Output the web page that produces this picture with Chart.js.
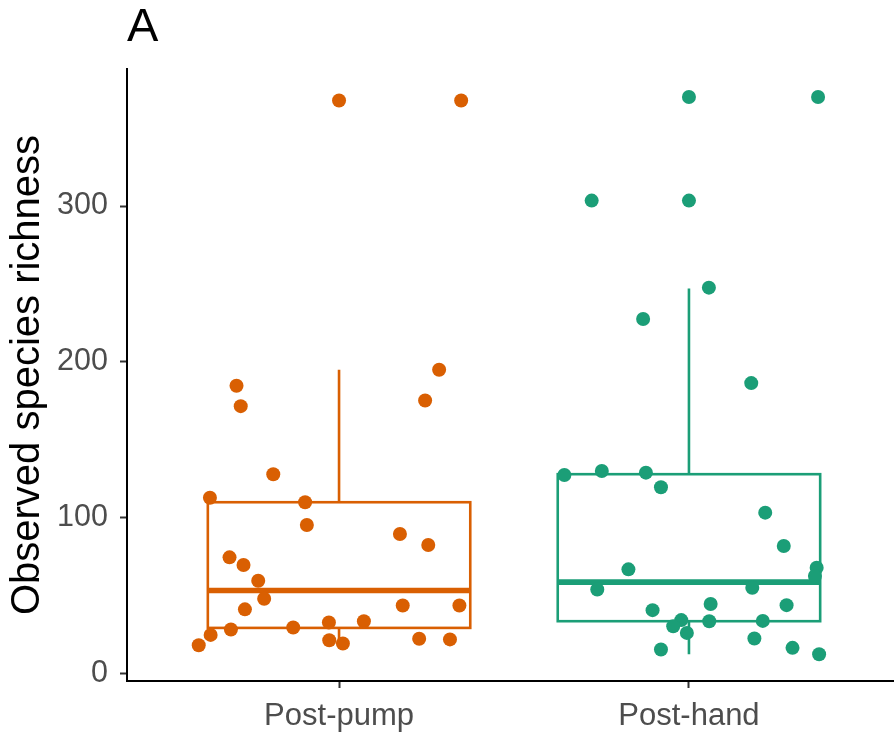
<!DOCTYPE html>
<html>
<head>
<meta charset="utf-8">
<script src="https://cdn.jsdelivr.net/npm/chart.js@4.4.0/dist/chart.umd.min.js"></script>
<style>
  body { margin: 0; background: #fff; }
</style>
</head>
<body>
<canvas id="grafico" width="894" height="736"></canvas>
<script>
// categorias del eje x y sus colores
const categorias = ['Post-pump', 'Post-hand'];
const colores = ['#D95F02', '#1B9E77'];
const ticksY = [0, 100, 200, 300];

// riqueza observada de cada muestra y su desplazamiento horizontal (jitter)
const postPump = [184.6, 171.5, 194.9, 175.1, 127.8, 112.7, 109.8, 95.2, 89.4, 82.3,
  74.4, 69.5, 59.4, 47.8, 41.0, 43.5, 43.5, 29.4, 32.6, 33.4,
  28.1, 24.6, 18.0, 21.2, 19.1, 22.1, 21.7, 367.8, 367.8];
const jitterPump = [-0.293, -0.281, 0.286, 0.246, -0.188, -0.369, -0.097, -0.092, 0.174, 0.255,
  -0.313, -0.273, -0.231, -0.214, -0.269, 0.182, 0.344, -0.131, -0.029, 0.071,
  -0.309, -0.367, -0.401, -0.028, 0.011, 0.229, 0.317, 0.0, 0.349];

const postHand = [186.3, 127.3, 129.9, 128.8, 119.4, 103.1, 81.7, 67.7, 62.4, 66.7,
  53.8, 54.9, 40.5, 44.4, 43.7, 33.4, 33.6, 34.1, 30.2, 25.9,
  22.3, 15.2, 16.3, 12.2, 370.0, 370.0, 303.5, 303.5, 247.6, 227.5];
const jitterHand = [0.178, -0.356, -0.249, -0.123, -0.080, 0.218, 0.271, 0.365, 0.360, -0.173,
  -0.262, 0.181, -0.104, 0.062, 0.279, 0.058, 0.211, -0.022, -0.045, -0.006,
  0.187, -0.080, 0.296, 0.372, 0.0, 0.369, -0.278, 0.0, 0.057, -0.131];

// resumen de cada caja: bigote inferior, Q1, mediana, Q3, bigote superior
const bigoteInf = [18.0, 12.2];
const q1 = [29.1, 33.4];
const mediana = [53.1, 58.5];
const q3 = [109.8, 127.8];
const bigoteSup = [194.9, 247.1];

const fuente = 'Liberation Sans';

// dibuja las cajas con las escalas del grafico, antes de los puntos
const cajas = {
  id: 'cajas',
  beforeDatasetsDraw(chart) {
    const { ctx, scales: { x, y } } = chart;
    const mitad = 0.375;
    ctx.save();
    categorias.forEach((c, i) => {
      const xc = x.getPixelForValue(i + 1);
      const xl = x.getPixelForValue(i + 1 - mitad);
      const xr = x.getPixelForValue(i + 1 + mitad);
      const yq1 = y.getPixelForValue(q1[i]);
      const yq3 = y.getPixelForValue(q3[i]);
      const ym = y.getPixelForValue(mediana[i]);
      ctx.strokeStyle = colores[i];
      ctx.lineWidth = 2.6;
      ctx.beginPath();
      ctx.moveTo(xc, yq3);
      ctx.lineTo(xc, y.getPixelForValue(bigoteSup[i]));
      ctx.moveTo(xc, yq1);
      ctx.lineTo(xc, y.getPixelForValue(bigoteInf[i]));
      ctx.stroke();
      ctx.strokeRect(xl, yq3, xr - xl, yq1 - yq3);
      ctx.lineWidth = 5.6;
      ctx.beginPath();
      ctx.moveTo(xl, ym);
      ctx.lineTo(xr, ym);
      ctx.stroke();
    });
    ctx.restore();
  }
};

// letra del panel
const etiqueta = {
  id: 'etiqueta',
  afterDraw(chart) {
    const ctx = chart.ctx;
    ctx.save();
    ctx.font = '47px "' + fuente + '"';
    ctx.fillStyle = '#000';
    ctx.textBaseline = 'alphabetic';
    ctx.textAlign = 'left';
    ctx.fillText('A', chart.chartArea.left, 41);
    ctx.restore();
  }
};

function puntos(valores, jitter, i) {
  return {
    label: categorias[i],
    data: valores.map((v, k) => ({ x: i + 1 + jitter[k], y: v })),
    backgroundColor: colores[i],
    borderWidth: 0,
    pointRadius: 7,
    pointHoverRadius: 7
  };
}

new Chart(document.getElementById('grafico'), {
  type: 'scatter',
  data: {
    datasets: [puntos(postPump, jitterPump, 0), puntos(postHand, jitterHand, 1)]
  },
  options: {
    responsive: false,
    animation: false,
    layout: { autoPadding: false, padding: { top: 69, right: 0, bottom: 0, left: 0 } },
    plugins: { legend: { display: false }, tooltip: { enabled: false } },
    scales: {
      x: {
        type: 'linear',
        min: 0.394,
        max: 2.586,
        afterBuildTicks: s => { s.ticks = categorias.map((c, i) => ({ value: i + 1 })); },
        afterFit: s => {
          s.height = 55;
          s.paddingLeft = 0;
          s.paddingRight = 0;
        },
        ticks: {
          callback: (v, i) => categorias[i],
          color: '#4D4D4D',
          font: { family: fuente, size: 31 },
          padding: 10,
          maxRotation: 0,
          autoSkip: false
        },
        grid: { drawOnChartArea: false, drawTicks: true, tickLength: 7, tickColor: '#333', tickWidth: 2 },
        border: { display: true, color: '#000', width: 2 }
      },
      y: {
        min: -5,
        max: 388,
        afterBuildTicks: s => { s.ticks = ticksY.map(v => ({ value: v })); },
        afterFit: s => { s.width = 127; },
        ticks: {
          color: '#4D4D4D',
          font: { family: fuente, size: 30.5 },
          padding: 12
        },
        grid: { drawOnChartArea: false, drawTicks: true, tickLength: 7, tickColor: '#333', tickWidth: 2 },
        border: { display: true, color: '#000', width: 2 },
        title: {
          display: true,
          text: 'Observed species richness',
          color: '#000',
          font: { family: fuente, size: 40, lineHeight: 1.2 },
          padding: { top: 4, bottom: 0 }
        }
      }
    }
  },
  plugins: [cajas, etiqueta]
});
</script>
</body>
</html>
